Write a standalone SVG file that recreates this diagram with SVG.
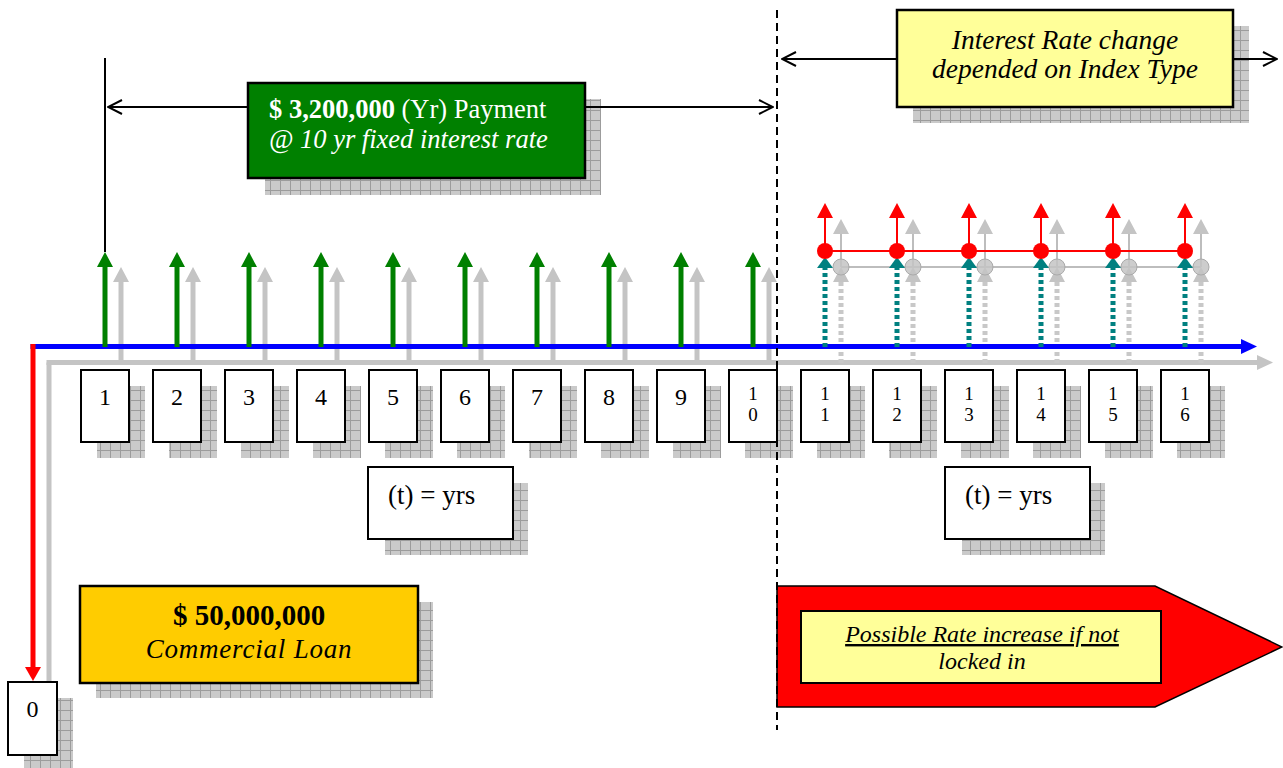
<svg xmlns="http://www.w3.org/2000/svg" width="1283" height="768" viewBox="0 0 1283 768">
<style>
text{font-family:"Liberation Serif","Times New Roman",serif;fill:#000}
.box{fill:#fff;stroke:#000;stroke-width:2}
.sh{fill:url(#grid)}
.num{font-family:"Liberation Serif","Times New Roman",serif;font-size:24px;text-anchor:middle}
.num2{font-family:"Liberation Serif","Times New Roman",serif;font-size:19px;text-anchor:middle}
.gshl{stroke:#c4c4c4;stroke-width:5}
.gshf{fill:#c4c4c4}
.grn{stroke:#008000;stroke-width:5}
.grnf{fill:#008000}
.red{stroke:#ff0000;stroke-width:2}
.redf{fill:#ff0000}
.teal{stroke:#008080;stroke-width:5;stroke-dasharray:4 3}
.tealf{fill:#008080}
.gdot{stroke:#c8c8c8;stroke-width:5;stroke-dasharray:4 3}
.conn{stroke:#000;stroke-width:2;fill:none}
</style>
<defs>
<pattern id="grid" width="10" height="10" patternUnits="userSpaceOnUse">
<rect width="10" height="10" fill="#cacaca"/>
<path d="M0 0.5H10M0.5 0V10" stroke="#9c9c9c" stroke-width="1"/>
</pattern>
<marker id="open" viewBox="0 0 16 16" refX="15" refY="8" markerWidth="16" markerHeight="16" markerUnits="userSpaceOnUse" orient="auto-start-reverse">
<path d="M1 1L15 8L1 15" fill="none" stroke="#000" stroke-width="2"/>
</marker>
</defs>

<g id="shadows">
<rect class="sh" x="265" y="99" width="336" height="96"/>
<rect class="sh" x="913" y="26" width="336" height="97"/>
<rect class="sh" x="96" y="602" width="337" height="96"/>
<rect class="sh" x="385" y="483" width="143" height="72"/>
<rect class="sh" x="962" y="483" width="143" height="72"/>
<rect class="sh" x="24" y="698" width="49" height="73"/>
<rect class="sh" x="97" y="386" width="48" height="72"/>
<rect class="sh" x="169" y="386" width="48" height="72"/>
<rect class="sh" x="241" y="386" width="48" height="72"/>
<rect class="sh" x="313" y="386" width="48" height="72"/>
<rect class="sh" x="385" y="386" width="48" height="72"/>
<rect class="sh" x="457" y="386" width="48" height="72"/>
<rect class="sh" x="529" y="386" width="48" height="72"/>
<rect class="sh" x="601" y="386" width="48" height="72"/>
<rect class="sh" x="673" y="386" width="48" height="72"/>
<rect class="sh" x="745" y="386" width="48" height="72"/>
<rect class="sh" x="817" y="386" width="48" height="72"/>
<rect class="sh" x="889" y="386" width="48" height="72"/>
<rect class="sh" x="961" y="386" width="48" height="72"/>
<rect class="sh" x="1033" y="386" width="48" height="72"/>
<rect class="sh" x="1105" y="386" width="48" height="72"/>
<rect class="sh" x="1177" y="386" width="48" height="72"/>
</g>

<g id="connectors">
<line class="gshl" x1="49" y1="696" x2="49" y2="362.5"/>
<line class="gshl" x1="46.5" y1="362.5" x2="1258" y2="362.5"/>
<polygon class="gshf" points="1257,355 1273,362.5 1257,370"/>
<g id="payment-shadows">
<line class="gshl" x1="121" y1="363" x2="121" y2="281"/><polygon class="gshf" points="113,282 121,267 129,282"/>
<line class="gshl" x1="193" y1="363" x2="193" y2="281"/><polygon class="gshf" points="185,282 193,267 201,282"/>
<line class="gshl" x1="265" y1="363" x2="265" y2="281"/><polygon class="gshf" points="257,282 265,267 273,282"/>
<line class="gshl" x1="337" y1="363" x2="337" y2="281"/><polygon class="gshf" points="329,282 337,267 345,282"/>
<line class="gshl" x1="409" y1="363" x2="409" y2="281"/><polygon class="gshf" points="401,282 409,267 417,282"/>
<line class="gshl" x1="481" y1="363" x2="481" y2="281"/><polygon class="gshf" points="473,282 481,267 489,282"/>
<line class="gshl" x1="553" y1="363" x2="553" y2="281"/><polygon class="gshf" points="545,282 553,267 561,282"/>
<line class="gshl" x1="625" y1="363" x2="625" y2="281"/><polygon class="gshf" points="617,282 625,267 633,282"/>
<line class="gshl" x1="697" y1="363" x2="697" y2="281"/><polygon class="gshf" points="689,282 697,267 705,282"/>
<line class="gshl" x1="769" y1="363" x2="769" y2="281"/><polygon class="gshf" points="761,282 769,267 777,282"/>
</g>
<g id="variable-shadows">
<line stroke="#bdbdbd" stroke-width="2" x1="841" y1="267" x2="1201" y2="267"/>
<line class="gdot" x1="841" y1="363" x2="841" y2="282"/><polygon class="gshf" points="833,282 841,267 849,282"/>
<line class="gdot" x1="913" y1="363" x2="913" y2="282"/><polygon class="gshf" points="905,282 913,267 921,282"/>
<line class="gdot" x1="985" y1="363" x2="985" y2="282"/><polygon class="gshf" points="977,282 985,267 993,282"/>
<line class="gdot" x1="1057" y1="363" x2="1057" y2="282"/><polygon class="gshf" points="1049,282 1057,267 1065,282"/>
<line class="gdot" x1="1129" y1="363" x2="1129" y2="282"/><polygon class="gshf" points="1121,282 1129,267 1137,282"/>
<line class="gdot" x1="1201" y1="363" x2="1201" y2="282"/><polygon class="gshf" points="1193,282 1201,267 1209,282"/>
<g stroke="#bdbdbd" stroke-width="2">
<line x1="841" y1="267" x2="841" y2="233"/><line x1="913" y1="267" x2="913" y2="233"/><line x1="985" y1="267" x2="985" y2="233"/><line x1="1057" y1="267" x2="1057" y2="233"/><line x1="1129" y1="267" x2="1129" y2="233"/><line x1="1201" y1="267" x2="1201" y2="233"/>
</g>
<polygon class="gshf" points="833,234 841,219 849,234"/>
<polygon class="gshf" points="905,234 913,219 921,234"/>
<polygon class="gshf" points="977,234 985,219 993,234"/>
<polygon class="gshf" points="1049,234 1057,219 1065,234"/>
<polygon class="gshf" points="1121,234 1129,219 1137,234"/>
<polygon class="gshf" points="1193,234 1201,219 1209,234"/>
<g fill="#c4c4c4" fill-opacity="0.85" stroke="#aaa" stroke-width="1">
<circle cx="841" cy="267" r="8"/><circle cx="913" cy="267" r="8"/><circle cx="985" cy="267" r="8"/><circle cx="1057" cy="267" r="8"/><circle cx="1129" cy="267" r="8"/><circle cx="1201" cy="267" r="8"/>
</g>
</g>
<line stroke="#0000ff" stroke-width="5" x1="30.5" y1="346.5" x2="1242" y2="346.5"/>
<polygon fill="#0000ff" points="1241,339 1257,346.5 1241,354"/>
<line stroke="#ff0000" stroke-width="5" x1="33" y1="344" x2="33" y2="667"/>
<polygon class="redf" points="25,667 33,681 41,667"/>
<g id="payments">
<line class="grn" x1="105" y1="347" x2="105" y2="266"/><polygon class="grnf" points="97,267 105,252 113,267"/>
<line class="grn" x1="177" y1="347" x2="177" y2="266"/><polygon class="grnf" points="169,267 177,252 185,267"/>
<line class="grn" x1="249" y1="347" x2="249" y2="266"/><polygon class="grnf" points="241,267 249,252 257,267"/>
<line class="grn" x1="321" y1="347" x2="321" y2="266"/><polygon class="grnf" points="313,267 321,252 329,267"/>
<line class="grn" x1="393" y1="347" x2="393" y2="266"/><polygon class="grnf" points="385,267 393,252 401,267"/>
<line class="grn" x1="465" y1="347" x2="465" y2="266"/><polygon class="grnf" points="457,267 465,252 473,267"/>
<line class="grn" x1="537" y1="347" x2="537" y2="266"/><polygon class="grnf" points="529,267 537,252 545,267"/>
<line class="grn" x1="609" y1="347" x2="609" y2="266"/><polygon class="grnf" points="601,267 609,252 617,267"/>
<line class="grn" x1="681" y1="347" x2="681" y2="266"/><polygon class="grnf" points="673,267 681,252 689,267"/>
<line class="grn" x1="753" y1="347" x2="753" y2="266"/><polygon class="grnf" points="745,267 753,252 761,267"/>
</g>
<g id="variable">
<line class="teal" x1="825" y1="347" x2="825" y2="267"/><polygon class="tealf" points="817,268 825,257 833,268"/>
<line class="teal" x1="897" y1="347" x2="897" y2="267"/><polygon class="tealf" points="889,268 897,257 905,268"/>
<line class="teal" x1="969" y1="347" x2="969" y2="267"/><polygon class="tealf" points="961,268 969,257 977,268"/>
<line class="teal" x1="1041" y1="347" x2="1041" y2="267"/><polygon class="tealf" points="1033,268 1041,257 1049,268"/>
<line class="teal" x1="1113" y1="347" x2="1113" y2="267"/><polygon class="tealf" points="1105,268 1113,257 1121,268"/>
<line class="teal" x1="1185" y1="347" x2="1185" y2="267"/><polygon class="tealf" points="1177,268 1185,257 1193,268"/>
<line class="red" x1="825" y1="251" x2="1185" y2="251"/>
<line class="red" x1="825" y1="251" x2="825" y2="217"/><polygon class="redf" points="817,218 825,203 833,218"/>
<line class="red" x1="897" y1="251" x2="897" y2="217"/><polygon class="redf" points="889,218 897,203 905,218"/>
<line class="red" x1="969" y1="251" x2="969" y2="217"/><polygon class="redf" points="961,218 969,203 977,218"/>
<line class="red" x1="1041" y1="251" x2="1041" y2="217"/><polygon class="redf" points="1033,218 1041,203 1049,218"/>
<line class="red" x1="1113" y1="251" x2="1113" y2="217"/><polygon class="redf" points="1105,218 1113,203 1121,218"/>
<line class="red" x1="1185" y1="251" x2="1185" y2="217"/><polygon class="redf" points="1177,218 1185,203 1193,218"/>
<g class="redf">
<circle cx="825" cy="251" r="8"/><circle cx="897" cy="251" r="8"/><circle cx="969" cy="251" r="8"/><circle cx="1041" cy="251" r="8"/><circle cx="1113" cy="251" r="8"/><circle cx="1185" cy="251" r="8"/>
</g>
</g>
<line class="conn" x1="105" y1="58" x2="105" y2="252"/>
<line class="conn" x1="108" y1="107" x2="773" y2="107" marker-start="url(#open)" marker-end="url(#open)"/>
<line class="conn" x1="782" y1="59" x2="1277" y2="59" marker-start="url(#open)" marker-end="url(#open)"/>
</g>

<g id="payment-box">
<rect x="248" y="83" width="337" height="95" fill="#008000" stroke="#000" stroke-width="2.5"/>
<text x="269" y="118" font-size="26.5" style="fill:#fff"><tspan font-weight="bold">$ 3,200,000</tspan> (Yr) Payment</text>
<text x="269" y="148" font-size="26.5" font-style="italic" style="fill:#fff">@ 10 yr fixed interest rate</text>
</g>

<g id="index-box">
<rect x="897" y="10" width="336" height="97" fill="#ffff99" stroke="#000" stroke-width="2.5"/>
<text x="1065" y="49" font-size="27.5" font-style="italic" text-anchor="middle">Interest Rate change</text>
<text x="1065" y="78" font-size="27.5" font-style="italic" text-anchor="middle">depended on Index Type</text>
</g>

<g id="loan-box">
<rect x="80" y="586" width="338" height="97" fill="#ffcc00" stroke="#000" stroke-width="2.5"/>
<text x="249" y="625" font-size="29" font-weight="bold" text-anchor="middle">$ 50,000,000</text>
<text x="249" y="658" font-size="27" font-style="italic" text-anchor="middle" letter-spacing="0.8">Commercial Loan</text>
</g>

<g id="t-box-1">
<rect class="box" x="368" y="467" width="145" height="72" stroke-width="2.5"/>
<text x="388" y="504" font-size="27">(t) = yrs</text>
</g>
<g id="t-box-2">
<rect class="box" x="945" y="467" width="145" height="72" stroke-width="2.5"/>
<text x="965" y="504" font-size="27">(t) = yrs</text>
</g>

<g id="year-0"><rect class="box" x="8" y="682" width="49" height="73"/><text class="num" x="32.5" y="717">0</text></g>
<g id="year-1"><rect class="box" x="81" y="370" width="48" height="72"/><text class="num" x="105" y="405">1</text></g>
<g id="year-2"><rect class="box" x="153" y="370" width="48" height="72"/><text class="num" x="177" y="405">2</text></g>
<g id="year-3"><rect class="box" x="225" y="370" width="48" height="72"/><text class="num" x="249" y="405">3</text></g>
<g id="year-4"><rect class="box" x="297" y="370" width="48" height="72"/><text class="num" x="321" y="405">4</text></g>
<g id="year-5"><rect class="box" x="369" y="370" width="48" height="72"/><text class="num" x="393" y="405">5</text></g>
<g id="year-6"><rect class="box" x="441" y="370" width="48" height="72"/><text class="num" x="465" y="405">6</text></g>
<g id="year-7"><rect class="box" x="513" y="370" width="48" height="72"/><text class="num" x="537" y="405">7</text></g>
<g id="year-8"><rect class="box" x="585" y="370" width="48" height="72"/><text class="num" x="609" y="405">8</text></g>
<g id="year-9"><rect class="box" x="657" y="370" width="48" height="72"/><text class="num" x="681" y="405">9</text></g>
<g id="year-10"><rect class="box" x="729" y="370" width="48" height="72"/><text class="num2" x="753" y="400">1</text><text class="num2" x="753" y="421">0</text></g>
<g id="year-11"><rect class="box" x="801" y="370" width="48" height="72"/><text class="num2" x="825" y="400">1</text><text class="num2" x="825" y="421">1</text></g>
<g id="year-12"><rect class="box" x="873" y="370" width="48" height="72"/><text class="num2" x="897" y="400">1</text><text class="num2" x="897" y="421">2</text></g>
<g id="year-13"><rect class="box" x="945" y="370" width="48" height="72"/><text class="num2" x="969" y="400">1</text><text class="num2" x="969" y="421">3</text></g>
<g id="year-14"><rect class="box" x="1017" y="370" width="48" height="72"/><text class="num2" x="1041" y="400">1</text><text class="num2" x="1041" y="421">4</text></g>
<g id="year-15"><rect class="box" x="1089" y="370" width="48" height="72"/><text class="num2" x="1113" y="400">1</text><text class="num2" x="1113" y="421">5</text></g>
<g id="year-16"><rect class="box" x="1161" y="370" width="48" height="72"/><text class="num2" x="1185" y="400">1</text><text class="num2" x="1185" y="421">6</text></g>

<g id="rate-increase">
<polygon points="777,586 1155,586 1282,647 1155,707 777,707" fill="#ff0000" stroke="#000" stroke-width="1.5"/>
<rect x="801" y="611" width="360" height="72" fill="#ffff99" stroke="#000" stroke-width="2"/>
<text x="982" y="642" font-family="Liberation Serif, Times New Roman, serif" font-size="24" font-style="italic" text-anchor="middle" text-decoration="underline">Possible Rate increase if not</text>
<text x="982" y="669" font-family="Liberation Serif, Times New Roman, serif" font-size="24" font-style="italic" text-anchor="middle">locked in</text>
</g>

<g id="divider">
<line x1="777" y1="10" x2="777" y2="730" stroke="#000" stroke-width="2" stroke-dasharray="8 5"/>
</g>
</svg>
